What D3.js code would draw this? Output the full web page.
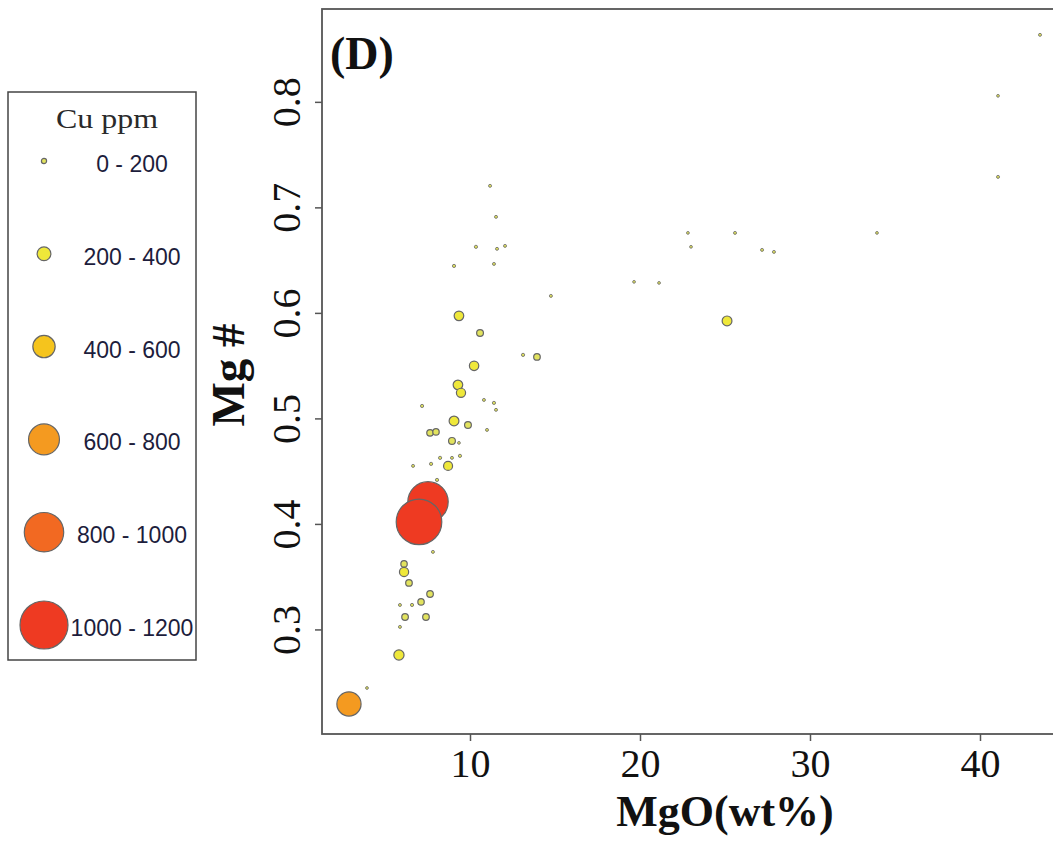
<!DOCTYPE html>
<html><head><meta charset="utf-8">
<script src="https://cdn.jsdelivr.net/npm/d3@7"></script>
<style>html,body{margin:0;padding:0;background:#fff;overflow:hidden}</style>
</head><body>
<svg id="chart" width="1053" height="842"></svg>
<script>
// ---- data ----
const mgo = [43.53, 41.06, 41.06, 22.82, 25.59, 33.94, 12.06, 23.00, 27.18, 27.88,
  19.65, 21.12, 14.76, 25.12, 11.18, 11.53, 10.35, 11.59, 9.06, 11.41,
  9.35, 10.59, 13.12, 13.94, 10.24, 9.29, 9.47, 10.82, 11.41, 11.53,
  7.18, 9.06, 9.88, 11.00, 7.65, 8.00, 8.94, 9.35, 8.24, 8.94,
  9.41, 6.65, 7.71, 8.71, 8.06, 7.53, 7.00, 7.82, 6.12, 6.12,
  6.41, 7.65, 5.88, 6.59, 7.12, 6.18, 7.41, 5.88, 5.82, 3.94, 2.88];
const mgNumber = [0.8635, 0.8057, 0.7289, 0.6758, 0.6758, 0.6758, 0.6635, 0.6626, 0.6597, 0.6578,
  0.6294, 0.6284, 0.6161, 0.5924, 0.7204, 0.6910, 0.6626, 0.6607, 0.6445, 0.6464,
  0.5972, 0.5810, 0.5602, 0.5583, 0.5498, 0.5318, 0.5242, 0.5175, 0.5147, 0.5081,
  0.5118, 0.4976, 0.4938, 0.4891, 0.4863, 0.4872, 0.4787, 0.4768, 0.4626, 0.4626,
  0.4645, 0.4550, 0.4569, 0.4550, 0.4417, 0.4209, 0.4019, 0.3735, 0.3621, 0.3545,
  0.3441, 0.3336, 0.3232, 0.3232, 0.3261, 0.3118, 0.3118, 0.3024, 0.2758, 0.2445, 0.2294];
const cuPpm = [75, 70, 75, 70, 75, 70, 75, 70, 75, 75,
  70, 70, 75, 245, 75, 75, 80, 75, 80, 75,
  240, 170, 80, 165, 235, 240, 230, 75, 80, 75,
  80, 245, 170, 75, 165, 160, 170, 70, 80, 75,
  80, 75, 80, 225, 80, 1010, 1140, 75, 160, 230,
  165, 165, 75, 80, 160, 165, 165, 75, 255, 70, 605];
const cuClasses = ["0 - 200", "200 - 400", "400 - 600", "600 - 800", "800 - 1000", "1000 - 1200"];
const classBreaks = [200, 400, 600, 800, 1000];
const classMid = [100, 300, 500, 700, 900, 1100];
const classColors = ["#e2e35e", "#efe83a", "#f5c41d", "#f49a20", "#f26922", "#ee3a22"];
const xTicks = [10, 20, 30, 40];
const yTicks = [0.3, 0.4, 0.5, 0.6, 0.7, 0.8];
const xTitle = "MgO(wt%)";
const yTitle = "Mg #";
const panelLabel = "(D)";
const legendTitle = "Cu ppm";

// ---- layout ----
const svg = d3.select("#chart");
const L = 322, R = 1128, T = 9, B = 734;
const x = d3.scaleLinear().domain([1.294, 48.706]).range([L, R]);
const y = d3.scaleLinear().domain([0.2009, 0.888]).range([B, T]);
const rPlot = d3.scaleLinear().domain([0, 1200]).range([0, 24]);
const rLegend = d3.scaleLinear().domain([100, 1100]).range([2.6, 24]);
const colorOf = d3.scaleThreshold().domain(classBreaks).range(classColors);
const serif = "'Liberation Serif','Times New Roman',serif";
const sans = "'Liberation Sans',Arial,sans-serif";

// axes
const xa = svg.append("g").attr("transform", `translate(0,${B})`)
  .call(d3.axisBottom(x).tickValues(xTicks).tickSize(7).tickFormat(d3.format("d")));
xa.select(".domain").remove();
xa.selectAll(".tick line").attr("stroke", "#555").attr("stroke-width", 1.5);
xa.selectAll(".tick text").attr("y", 43).attr("dy", 0)
  .style("font-family", serif).style("font-size", "40px").attr("fill", "#111");

const ya = svg.append("g").attr("transform", `translate(${L},0)`)
  .call(d3.axisLeft(y).tickValues(yTicks).tickSize(7).tickFormat(d3.format(".1f")));
ya.select(".domain").remove();
ya.selectAll(".tick line").attr("stroke", "#555").attr("stroke-width", 1.5);
ya.selectAll(".tick text").attr("x", 0).attr("y", 0).attr("dy", 0)
  .attr("transform", "translate(-22,0) rotate(-90)")
  .attr("text-anchor", "middle")
  .style("font-family", serif).style("font-size", "40px").attr("fill", "#111");

// frame
svg.append("rect").attr("x", L).attr("y", T).attr("width", R - L).attr("height", B - T)
  .attr("fill", "none").attr("stroke", "#555").attr("stroke-width", 1.8);

// points
const pts = mgo.map((m, i) => ({ m, g: mgNumber[i], cu: cuPpm[i] }));
svg.append("g").selectAll("circle").data(pts).join("circle")
  .attr("cx", d => x(d.m)).attr("cy", d => y(d.g))
  .attr("r", d => rPlot(d.cu))
  .attr("fill", d => colorOf(d.cu))
  .attr("stroke", "#666")
  .attr("stroke-width", d => d.cu < 100 ? 0.8 : 1.2);

// titles
svg.append("text").attr("x", 725).attr("y", 826).attr("text-anchor", "middle")
  .style("font-family", serif).style("font-weight", "bold").style("font-size", "44px")
  .attr("fill", "#111").text(xTitle);
svg.append("text").attr("transform", "translate(244,375) rotate(-90)").attr("text-anchor", "middle")
  .style("font-family", serif).style("font-weight", "bold").style("font-size", "47px")
  .attr("fill", "#111").text(yTitle);
svg.append("text").attr("x", 330).attr("y", 69)
  .style("font-family", serif).style("font-weight", "bold").style("font-size", "46px")
  .attr("fill", "#111").text(panelLabel);

// legend
const lg = svg.append("g");
lg.append("rect").attr("x", 8).attr("y", 92).attr("width", 188).attr("height", 568)
  .attr("fill", "#fff").attr("stroke", "#444").attr("stroke-width", 1.5);
lg.append("text").attr("x", 107).attr("y", 128).attr("text-anchor", "middle")
  .attr("textLength", 102).attr("lengthAdjust", "spacingAndGlyphs")
  .style("font-family", serif).style("font-size", "28px").attr("fill", "#2a2a2a").text(legendTitle);
const ly = d3.scaleLinear().domain([0, cuClasses.length - 1]).range([161, 625]);
const items = lg.selectAll("g.item").data(cuClasses).join("g").attr("class", "item")
  .attr("transform", (d, i) => `translate(0,${ly(i)})`);
items.append("circle").attr("cx", 44).attr("cy", 0)
  .attr("r", (d, i) => rLegend(classMid[i]))
  .attr("fill", (d, i) => classColors[i]).attr("stroke", "#666").attr("stroke-width", 1.2);
items.append("text").attr("x", 132).attr("y", 11).attr("text-anchor", "middle")
  .style("font-family", sans).style("font-size", "23px").attr("fill", "#1d1d3c").text(d => d);
</script>
</body></html>
